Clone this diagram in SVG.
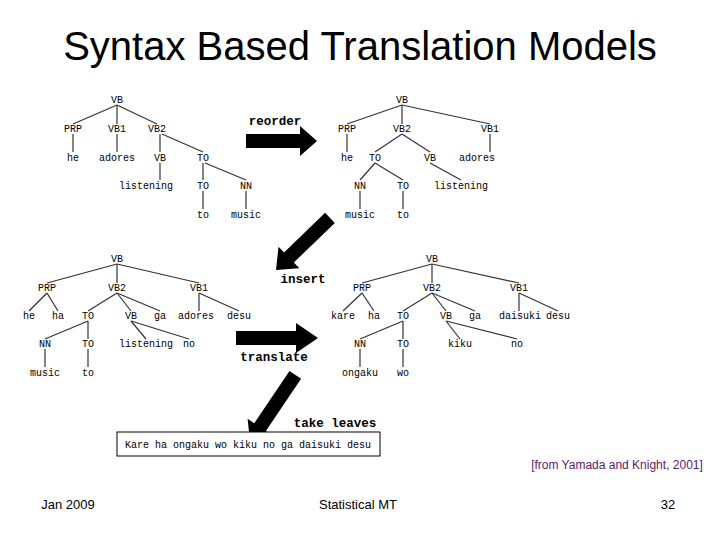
<svg xmlns="http://www.w3.org/2000/svg" width="720" height="540" viewBox="0 0 720 540">
<style>
.t{font-family:"Liberation Mono",monospace;font-size:10px;text-anchor:middle;fill:#000}
.l{font-family:"Liberation Mono",monospace;font-size:12.5px;font-weight:bold;text-anchor:middle;fill:#000}
.e line{stroke:#333;stroke-width:1.2}
.f{font-family:"Liberation Sans",Arial,sans-serif;font-size:13px;text-anchor:middle;fill:#000}
</style>
<rect width="720" height="540" fill="#fff"/>
<text x="360" y="60" font-family="Liberation Sans,Arial,sans-serif" font-size="40" text-anchor="middle">Syntax Based Translation Models</text>
<g id="connectors" class="e">
<line x1="117" y1="105" x2="73" y2="124"/><line x1="117" y1="105" x2="117" y2="124"/><line x1="117" y1="105" x2="157" y2="124"/>
<line x1="73" y1="134" x2="73" y2="152"/><line x1="117" y1="134" x2="117" y2="152"/><line x1="160" y1="134" x2="160" y2="152"/><line x1="162" y1="134" x2="203" y2="152"/>
<line x1="160" y1="163" x2="160" y2="180"/><line x1="203" y1="163" x2="203" y2="180"/><line x1="205" y1="163" x2="246" y2="180"/>
<line x1="203" y1="191" x2="203" y2="209"/><line x1="246" y1="191" x2="246" y2="209"/>
<line x1="402" y1="105" x2="347" y2="124"/><line x1="402" y1="105" x2="402" y2="124"/><line x1="402" y1="105" x2="490" y2="124"/>
<line x1="347" y1="134" x2="347" y2="152"/><line x1="402" y1="134" x2="375" y2="152"/><line x1="402" y1="134" x2="430" y2="152"/><line x1="490" y1="134" x2="490" y2="152"/>
<line x1="375" y1="163" x2="360" y2="180"/><line x1="375" y1="163" x2="403" y2="180"/><line x1="430" y1="163" x2="461" y2="180"/>
<line x1="360" y1="191" x2="360" y2="209"/><line x1="403" y1="191" x2="403" y2="209"/>
<line x1="117" y1="264" x2="47" y2="283"/><line x1="117" y1="264" x2="117" y2="283"/><line x1="117" y1="264" x2="199" y2="283"/>
<line x1="47" y1="293" x2="29" y2="311"/><line x1="47" y1="293" x2="58" y2="311"/><line x1="117" y1="293" x2="88" y2="311"/><line x1="117" y1="293" x2="131" y2="311"/><line x1="117" y1="293" x2="160" y2="311"/>
<line x1="199" y1="293" x2="199" y2="311"/><line x1="199" y1="293" x2="239" y2="311"/>
<line x1="88" y1="321" x2="45" y2="339"/><line x1="88" y1="321" x2="88" y2="339"/><line x1="131" y1="321" x2="146" y2="339"/><line x1="131" y1="321" x2="189" y2="339"/>
<line x1="45" y1="349" x2="45" y2="367"/><line x1="88" y1="349" x2="88" y2="367"/>
<line x1="432" y1="264" x2="362" y2="283"/><line x1="432" y1="264" x2="432" y2="283"/><line x1="432" y1="264" x2="519" y2="283"/>
<line x1="362" y1="293" x2="343" y2="311"/><line x1="362" y1="293" x2="374" y2="311"/><line x1="432" y1="293" x2="403" y2="311"/><line x1="432" y1="293" x2="446" y2="311"/><line x1="432" y1="293" x2="475" y2="311"/>
<line x1="519" y1="293" x2="519" y2="311"/><line x1="519" y1="293" x2="558" y2="311"/>
<line x1="403" y1="321" x2="360" y2="339"/><line x1="403" y1="321" x2="403" y2="339"/><line x1="446" y1="321" x2="460" y2="339"/><line x1="446" y1="321" x2="517" y2="339"/>
<line x1="360" y1="349" x2="360" y2="367"/><line x1="403" y1="349" x2="403" y2="367"/>
<polygon points="246,134 300,134 300,126 317,141 300,156 300,148 246,148"/>
<polygon points="236,331 296,331 296,323 318,338 296,353 296,345 236,345"/>
<polygon transform="translate(276,270) rotate(136)" points="0,0 -18,-15 -18,-7 -75,-7 -75,7 -18,7 -18,15"/>
<polygon transform="translate(250,442) rotate(124)" points="0,0 -18,-15 -18,-7 -81,-7 -81,7 -18,7 -18,15"/>
</g>
<g id="tree1" class="t">
<text x="117" y="103">VB</text><text x="73" y="132">PRP</text><text x="117" y="132">VB1</text><text x="157" y="132">VB2</text>
<text x="73" y="161">he</text><text x="117" y="161">adores</text><text x="160" y="161">VB</text><text x="203" y="161">TO</text>
<text x="146" y="189">listening</text><text x="203" y="189">TO</text><text x="246" y="189">NN</text>
<text x="203" y="218">to</text><text x="246" y="218">music</text>
</g>
<g id="tree2" class="t">
<text x="402" y="103">VB</text><text x="347" y="132">PRP</text><text x="402" y="132">VB2</text><text x="490" y="132">VB1</text>
<text x="347" y="161">he</text><text x="375" y="161">TO</text><text x="430" y="161">VB</text><text x="477" y="161">adores</text>
<text x="360" y="189">NN</text><text x="403" y="189">TO</text><text x="461" y="189">listening</text>
<text x="360" y="218">music</text><text x="403" y="218">to</text>
</g>
<g id="tree3" class="t">
<text x="117" y="262">VB</text><text x="47" y="291">PRP</text><text x="117" y="291">VB2</text><text x="199" y="291">VB1</text>
<text x="29" y="319">he</text><text x="58" y="319">ha</text><text x="88" y="319">TO</text><text x="131" y="319">VB</text><text x="160" y="319">ga</text><text x="196" y="319">adores</text><text x="239" y="319">desu</text>
<text x="45" y="347">NN</text><text x="88" y="347">TO</text><text x="146" y="347">listening</text><text x="189" y="347">no</text>
<text x="45" y="376">music</text><text x="88" y="376">to</text>
</g>
<g id="tree4" class="t">
<text x="432" y="262">VB</text><text x="362" y="291">PRP</text><text x="432" y="291">VB2</text><text x="519" y="291">VB1</text>
<text x="343" y="319">kare</text><text x="374" y="319">ha</text><text x="403" y="319">TO</text><text x="446" y="319">VB</text><text x="475" y="319">ga</text><text x="520" y="319">daisuki</text><text x="558" y="319">desu</text>
<text x="360" y="347">NN</text><text x="403" y="347">TO</text><text x="460" y="347">kiku</text><text x="517" y="347">no</text>
<text x="360" y="376">ongaku</text><text x="403" y="376">wo</text>
</g>
<g id="labels" class="l">
<text x="275" y="125">reorder</text><text x="303" y="283">insert</text><text x="274" y="361">translate</text><text x="335" y="427">take leaves</text>
</g>
<g id="result">
<rect x="117" y="432" width="263" height="24" fill="#fff" stroke="#000" stroke-width="1"/>
<text class="t" x="248" y="448">Kare ha ongaku wo kiku no ga daisuki desu</text>
</g>
<text x="617" y="469" font-family="Liberation Sans,Arial,sans-serif" font-size="12" text-anchor="middle" fill="#5a2070">[from Yamada and Knight, 2001]</text>
<text class="f" x="68" y="509">Jan 2009</text><text class="f" x="358" y="509">Statistical MT</text><text class="f" x="668" y="509">32</text>
</svg>
